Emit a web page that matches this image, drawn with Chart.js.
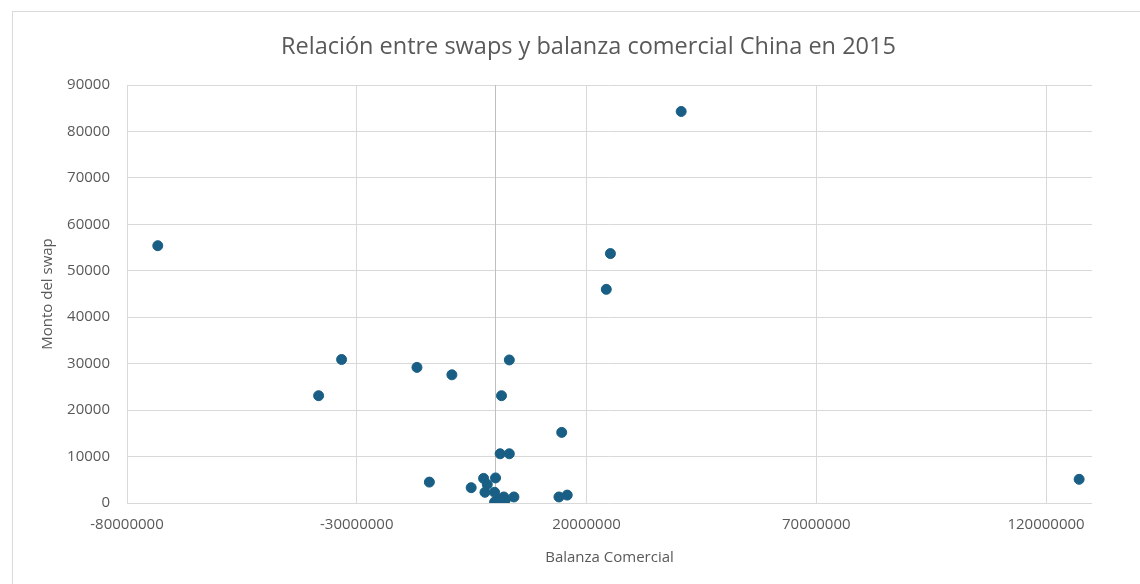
<!DOCTYPE html>
<html lang="es">
<head>
<meta charset="UTF-8">
<title>Relación entre swaps y balanza comercial China en 2015</title>
<script src="https://cdn.jsdelivr.net/npm/chart.js"></script>
<style>
    body {
        margin: 0;
        width: 1140px;
        height: 584px;
        overflow: hidden;
        background: #fff;
        position: relative;
    }
    .frame {
        position: absolute;
        left: 12px;
        top: 11px;
        width: 1200px;
        height: 640px;
        border: 1px solid #d9d9d9;
    }
    .chart-box {
        position: absolute;
        left: 0;
        top: 0;
        width: 1140px;
        height: 584px;
    }
    .chart-title {
        position: absolute;
        left: 281px;
        width: 600px;
        top: 28px;
        text-align: center;
        white-space: nowrap;
        font-family: 'Open Sans', sans-serif;
        font-size: 23.5px;
        line-height: 34px;
        color: #595959;
    }
</style>
</head>
<body>
<div class="frame"></div>
<div class="chart-box"><canvas id="swapChart" width="1140" height="584"></canvas></div>
<div class="chart-title">Relación entre swaps y balanza comercial China en 2015</div>
<script>
    // Balanza comercial (x) y monto del swap (y)
    const balanza = [
        -73300000, -38300000, -33300000, -16900000, -9300000,
        1500000, 3200000, 14600000, 1200000, 3200000,
        -14200000, -5100000, -2400000, -1600000, -2100000,
        200000, 0, 0, 2000000, 2300000,
        4200000, 14000000, 15800000, 300000, 1000000,
        40600000, 25200000, 24300000, 127200000
    ];
    const montoSwap = [
        55400, 23100, 30900, 29200, 27600,
        23100, 30800, 15200, 10600, 10600,
        4500, 3300, 5300, 4000, 2300,
        5400, 2300, 200, 1300, 600,
        1300, 1300, 1700, 100, 700,
        84300, 53700, 46000, 5100
    ];
    const xTicks = [-80000000, -30000000, 20000000, 70000000, 120000000];
    const yTicks = [0, 10000, 20000, 30000, 40000, 50000, 60000, 70000, 80000, 90000];

    const points = balanza.map((x, i) => ({ x: x, y: montoSwap[i] }));

    const textColor = '#595959';
    const gridColor = '#d9d9d9';
    const tickFont = { family: 'Open Sans', size: 15 };

    // linea vertical en balanza = 0 (eje cruzado)
    const zeroLine = {
        id: 'zeroLine',
        beforeDatasetsDraw(chart) {
            const xs = chart.scales.x;
            const area = chart.chartArea;
            const px = Math.round(xs.getPixelForValue(0)) + 0.5;
            const ctx = chart.ctx;
            ctx.save();
            ctx.strokeStyle = '#bfbfbf';
            ctx.lineWidth = 1;
            ctx.beginPath();
            ctx.moveTo(px, area.top);
            ctx.lineTo(px, area.bottom);
            ctx.stroke();
            ctx.restore();
        }
    };

    new Chart(document.getElementById('swapChart'), {
        type: 'scatter',
        data: {
            datasets: [{
                label: 'Monto del swap',
                data: points,
                backgroundColor: '#195e84',
                borderColor: '#195e84',
                pointRadius: 5,
                pointHoverRadius: 5
            }]
        },
        options: {
            responsive: false,
            animation: false,
            layout: { padding: { left: 0, right: 48, top: 85, bottom: 0 } },
            plugins: {
                legend: { display: false },
                tooltip: { enabled: false },
                title: { display: false }
            },
            scales: {
                x: {
                    type: 'linear',
                    min: -80000000,
                    max: 130000000,
                    afterBuildTicks: s => { s.ticks = xTicks.map(v => ({ value: v })); },
                    afterFit: s => { s.height = 81; },
                    grid: { color: gridColor, drawTicks: false },
                    border: { display: false },
                    ticks: {
                        color: textColor,
                        font: tickFont,
                        padding: 13,
                        maxRotation: 0,
                        callback: v => String(v)
                    },
                    title: {
                        display: true,
                        text: 'Balanza Comercial',
                        color: textColor,
                        font: { family: 'Open Sans', size: 15 },
                        padding: { top: 0, bottom: 17 }
                    }
                },
                y: {
                    type: 'linear',
                    min: 0,
                    max: 90000,
                    afterBuildTicks: s => { s.ticks = yTicks.map(v => ({ value: v })); },
                    afterFit: s => { s.width = 127; },
                    grid: { color: gridColor, drawTicks: false },
                    border: { display: false },
                    ticks: {
                        color: textColor,
                        font: tickFont,
                        padding: 17,
                        callback: v => String(v)
                    },
                    title: {
                        display: true,
                        text: 'Monto del swap',
                        color: textColor,
                        font: { family: 'Open Sans', size: 15 },
                        padding: { top: 39, bottom: 0 }
                    }
                }
            }
        },
        plugins: [zeroLine]
    });
</script>
</body>
</html>
